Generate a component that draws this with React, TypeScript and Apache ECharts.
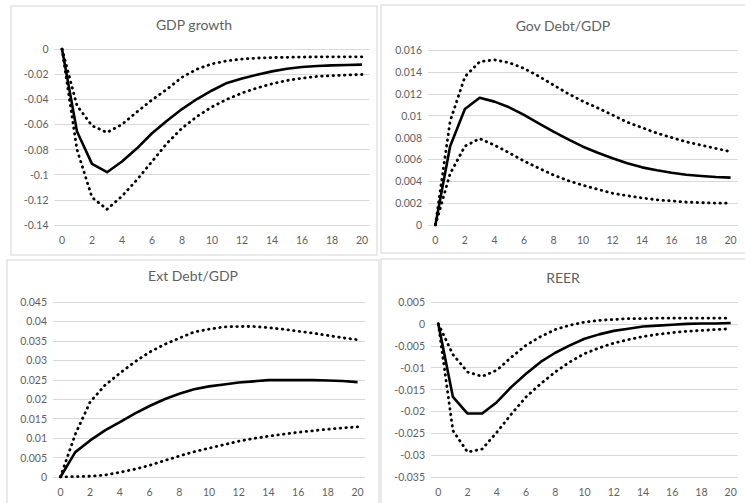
import React, { useEffect, useRef } from "react";
import * as echarts from "echarts";

const periods = Array.from({ length: 21 }, (_, i) => String(i));

const gdpMid = [0, -0.0656, -0.0914, -0.098, -0.0895, -0.079, -0.067, -0.057, -0.0478, -0.0398, -0.033, -0.027, -0.0234, -0.0205, -0.0178, -0.0157, -0.0143, -0.0135, -0.013, -0.0127, -0.0124];
const gdpUp = [0, -0.045, -0.061, -0.0664, -0.06, -0.05, -0.0405, -0.032, -0.0225, -0.016, -0.0118, -0.0094, -0.008, -0.0072, -0.0068, -0.0066, -0.0064, -0.0063, -0.0062, -0.0062, -0.0062];
const gdpLo = [0, -0.08, -0.118, -0.1275, -0.117, -0.104, -0.0895, -0.075, -0.063, -0.0537, -0.046, -0.04, -0.035, -0.031, -0.0277, -0.025, -0.0232, -0.0218, -0.0212, -0.0207, -0.0203];

const govMid = [0, 0.0072, 0.0106, 0.01164, 0.01128, 0.01076, 0.01006, 0.0093, 0.00853, 0.00783, 0.00716, 0.00661, 0.0061, 0.00564, 0.00527, 0.005, 0.00478, 0.0046, 0.00448, 0.00439, 0.00433];
const govUp = [0, 0.0095, 0.01356, 0.01493, 0.0151, 0.01484, 0.01432, 0.0136, 0.0128, 0.012, 0.0113, 0.0107, 0.01006, 0.0094, 0.0089, 0.0084, 0.008, 0.0076, 0.0073, 0.007, 0.0067];
const govLo = [0, 0.0047, 0.0072, 0.0079, 0.0073, 0.0066, 0.00585, 0.0052, 0.00457, 0.00405, 0.00363, 0.00326, 0.0029, 0.00268, 0.00247, 0.0023, 0.0022, 0.0021, 0.00204, 0.002, 0.002];

const extMid = [0, 0.0064, 0.0094, 0.012, 0.01414, 0.0163, 0.01826, 0.02, 0.0214, 0.02254, 0.0233, 0.0238, 0.0243, 0.0246, 0.0249, 0.0249, 0.0249, 0.0249, 0.0248, 0.0247, 0.0244];
const extUp = [0, 0.011, 0.0193, 0.0236, 0.0267, 0.0296, 0.0321, 0.0341, 0.0357, 0.0373, 0.038, 0.0386, 0.0387, 0.0387, 0.0384, 0.038, 0.0375, 0.037, 0.0364, 0.0358, 0.0353];
const extLo = [0, 0.0001, 0.0002, 0.0005, 0.0012, 0.002, 0.003, 0.0042, 0.0054, 0.0065, 0.0074, 0.0083, 0.0092, 0.0099, 0.0105, 0.011, 0.0115, 0.0119, 0.0123, 0.0126, 0.0129];

const reerMid = [0, -0.0167, -0.0205, -0.0205, -0.0179, -0.0144, -0.0114, -0.0087, -0.0066, -0.0049, -0.0034, -0.0024, -0.0016, -0.0011, -0.0006, -0.0004, -0.0002, 0, 0.0001, 0.0001, 0.0002];
const reerUp = [0, -0.007, -0.011, -0.012, -0.0106, -0.0076, -0.0049, -0.0029, -0.0013, -0.0003, 0.0004, 0.0008, 0.001, 0.0012, 0.0012, 0.0013, 0.0013, 0.0013, 0.0013, 0.0013, 0.0013];
const reerLo = [0, -0.0244, -0.0293, -0.0286, -0.0248, -0.0206, -0.0167, -0.0137, -0.011, -0.0087, -0.0068, -0.0055, -0.0044, -0.0036, -0.0029, -0.0024, -0.002, -0.0017, -0.0015, -0.0013, -0.0011];

const titles = ["GDP growth", "Gov Debt/GDP", "Ext Debt/GDP", "REER"];
const yMins = [-0.14, 0, 0, -0.035];
const yMaxs = [0, 0.016, 0.045, 0.005];
const yIntervals = [0.02, 0.002, 0.005, 0.005];
const panelData = [
  [gdpMid, gdpUp, gdpLo],
  [govMid, govUp, govLo],
  [extMid, extUp, extLo],
  [reerMid, reerUp, reerLo],
];

export default function App() {
  const ref = useRef<HTMLDivElement>(null);
  useEffect(() => {
    if (!ref.current) return;
    const chart = echarts.init(ref.current, null, { renderer: "svg" });
    const grids = [
      { left: 54.5, top: 49, width: 315, height: 176 },
      { left: 428, top: 50, width: 310, height: 175 },
      { left: 53, top: 302, width: 312, height: 175 },
      { left: 431, top: 302, width: 307, height: 175 },
    ];
    const titlePos = [
      [194, 24],
      [563, 25],
      [193, 275],
      [563, 277],
    ];
    const labelColor = "#5f5f5f";
    const font = "Lato, 'Open Sans', sans-serif";
    const fmt = (v: number) => {
      const r = parseFloat(v.toFixed(4));
      return r === 0 ? "0" : String(r);
    };
    const series: any[] = [];
    panelData.forEach((arrs, i) => {
      arrs.forEach((d, j) => {
        series.push({
          type: "line",
          xAxisIndex: i,
          yAxisIndex: i,
          data: d,
          symbol: "none",
          smooth: false,
          lineStyle:
            j === 0
              ? { color: "#000", width: 2.6, join: "round" }
              : { color: "#000", width: 2.8, type: [0.5, 5.2], cap: "round" },
        });
      });
    });
    const option: any = {
      animation: false,
      backgroundColor: "#fff",
      grid: grids.map((g) => ({ ...g, containLabel: false })),
      xAxis: grids.map((_, i) => ({
        type: "category",
        gridIndex: i,
        data: periods,
        boundaryGap: true,
        axisLine: { show: false },
        axisTick: { show: false },
        splitLine: { show: false },
        axisLabel: {
          interval: 1,
          color: labelColor,
          fontSize: 10.5,
          fontFamily: font,
          margin: 9,
        },
      })),
      yAxis: grids.map((_, i) => ({
        type: "value",
        gridIndex: i,
        min: yMins[i],
        max: yMaxs[i],
        interval: yIntervals[i],
        axisLine: { show: false },
        axisTick: { show: false },
        splitLine: { show: true, lineStyle: { color: "#d9d9d9", width: 1 } },
        axisLabel: {
          color: labelColor,
          fontSize: 10.5,
          fontFamily: font,
          margin: 6,
          formatter: fmt,
        },
      })),
      graphic: [
        { type: "rect", shape: { x: 11, y: 6, width: 366, height: 249 }, style: { fill: "none", stroke: "#e3e3e3", lineWidth: 1.5 }, silent: true },
        { type: "rect", shape: { x: 381, y: 5, width: 370, height: 248 }, style: { fill: "none", stroke: "#e3e3e3", lineWidth: 1.5 }, silent: true },
        { type: "rect", shape: { x: 7, y: 260, width: 372, height: 250 }, style: { fill: "none", stroke: "#e3e3e3", lineWidth: 1.5 }, silent: true },
        { type: "rect", shape: { x: 381, y: 259, width: 370, height: 250 }, style: { fill: "none", stroke: "#e3e3e3", lineWidth: 1.5 }, silent: true },
        ...titles.map((t, i) => ({
          type: "text",
          x: titlePos[i][0],
          y: titlePos[i][1],
          silent: true,
          style: {
            text: t,
            fill: labelColor,
            font: `14px ${font}`,
            align: "center",
            verticalAlign: "middle",
          },
        })),
      ],
      series,
    };
    chart.setOption(option);
    return () => chart.dispose();
  }, []);
  return (
    <div
      ref={ref}
      style={{ position: "fixed", left: 0, top: 0, width: 745, height: 503 }}
    />
  );
}
